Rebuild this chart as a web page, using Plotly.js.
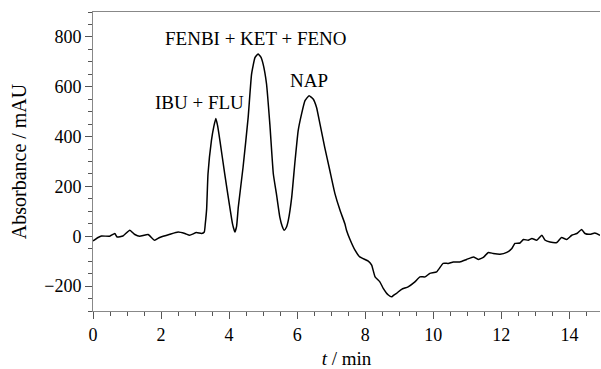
<!DOCTYPE html>
<html>
<head>
<meta charset="utf-8">
<script src="https://cdn.plot.ly/plotly-3.0.1.min.js"></script>
<style>html,body{margin:0;padding:0;background:#fff;}#chart{width:601px;height:369px;}</style>
</head>
<body>
<div id="chart"></div>
<script>
const timeMin = [0,0.15,0.25,0.49,0.64,0.71,0.88,1.08,1.23,1.37,1.62,1.81,1.96,2.26,2.5,2.7,2.84,3.04,3.19,3.27,3.30,3.34,3.38,3.48,3.55,3.61,3.66,3.73,3.87,4.02,4.10,4.17,4.22,4.27,4.41,4.56,4.66,4.76,4.85,4.93,5.0,5.1,5.2,5.3,5.39,5.49,5.56,5.62,5.68,5.74,5.84,5.93,6.03,6.13,6.23,6.35,6.47,6.57,6.67,6.81,6.96,7.11,7.26,7.4,7.45,7.55,7.7,7.84,8.09,8.19,8.29,8.43,8.53,8.68,8.78,8.85,8.92,9.07,9.26,9.46,9.61,9.76,9.9,10.1,10.29,10.44,10.59,10.78,10.98,11.18,11.32,11.47,11.62,11.76,11.96,12.16,12.31,12.40,12.55,12.65,12.79,12.9,13.04,13.19,13.29,13.43,13.63,13.77,13.92,14.07,14.22,14.36,14.46,14.61,14.75,14.9];
const absorbance = [-19,-5,1,0,11,-3,1,24,7,0,7,-16,-5,8,17,11,4,15,11,17,50,110,251,384,440,473,445,384,251,117,50,17,40,117,277,477,651,717,731,720,691,611,445,250,171,77,40,24,35,64,157,291,424,491,544,564,551,517,451,357,264,171,104,51,24,-12,-56,-83,-100,-116,-163,-183,-209,-236,-243,-235,-229,-213,-203,-183,-163,-163,-149,-143,-109,-109,-103,-103,-93,-83,-93,-85,-65,-69,-72,-65,-49,-29,-27,-13,-16,-9,-16,4,-16,-23,-25,-5,-13,4,11,27,11,8,13,4];
const peakLabels = ["IBU + FLU", "FENBI + KET + FENO", "NAP"];
const peakLabelX = [3.14, 4.79, 6.34];
const peakLabelY = [537, 792, 624];

const fontFam = "Liberation Serif, Times New Roman, serif";
const trace = {
  x: timeMin, y: absorbance, type: 'scatter', mode: 'lines',
  line: {color: '#000', width: 1.5, shape: 'spline', smoothing: 0.4},
  hoverinfo: 'skip'
};
const annotations = peakLabels.map((t, i) => ({
  x: peakLabelX[i], y: peakLabelY[i], xref: 'x', yref: 'y', text: t,
  showarrow: false, font: {family: fontFam, size: 19, color: '#000'}
}));
const layout = {
  width: 601, height: 369,
  margin: {l: 93, r: 1, t: 12, b: 58},
  paper_bgcolor: '#fff', plot_bgcolor: '#fff',
  showlegend: false,
  font: {family: fontFam, size: 18, color: '#000'},
  xaxis: {
    range: [0, 14.9], tickvals: [0,2,4,6,8,10,12,14], ticks: 'outside', ticklen: 7, tickcolor: '#555',
    minor: {dtick: 0.5, tick0: 0, ticks: 'outside', ticklen: 4, tickcolor: '#555', showgrid: false},
    showline: true, linecolor: '#888', linewidth: 1, mirror: true,
    showgrid: false, zeroline: false,
    tickfont: {family: fontFam, size: 18, color: '#000'},
    title: {text: '<i>t</i> / min', font: {family: fontFam, size: 19, color: '#000'}, standoff: 10}
  },
  yaxis: {
    range: [-300, 900], tickvals: [-200,0,200,400,600,800], ticks: 'outside', ticklen: 7, tickcolor: '#555',
    minor: {dtick: 50, tick0: 0, ticks: 'outside', ticklen: 4, tickcolor: '#555', showgrid: false},
    showline: true, linecolor: '#888', linewidth: 1,
    showgrid: false, zeroline: false,
    tickfont: {family: fontFam, size: 18, color: '#000'},
    title: {text: 'Absorbance / mAU', font: {family: fontFam, size: 20, color: '#000'}, standoff: 12}
  },
  annotations: annotations
};
Plotly.newPlot('chart', [trace], layout, {staticPlot: true, displayModeBar: false});
</script>
</body>
</html>
